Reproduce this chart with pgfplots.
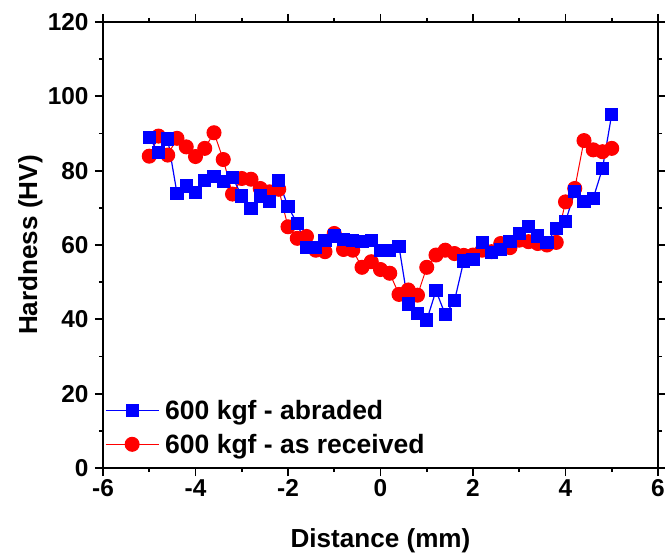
\documentclass[border=0pt]{standalone}
\usepackage{fontspec}
\setmainfont{Liberation Sans}
\usepackage{pgfplots}
\usepackage{pgfplotstable}
\pgfplotsset{compat=1.18}
\pgfplotstableread{
x ab ar
-5.0 88.9 83.9
-4.8 84.9 89.3
-4.6 88.5 84.2
-4.4 73.9 88.7
-4.2 75.9 86.4
-4.0 74.1 83.8
-3.8 77.3 86.0
-3.6 78.4 90.2
-3.4 77.0 83.0
-3.2 78.2 73.7
-3.0 73.2 77.9
-2.8 69.9 77.7
-2.6 73.2 75.2
-2.4 71.6 74.3
-2.2 77.3 75.0
-2.0 70.3 64.9
-1.8 65.8 61.8
-1.6 59.4 62.3
-1.4 59.4 58.6
-1.2 61.3 58.2
-1.0 62.4 63.1
-0.8 61.5 58.8
-0.6 61.3 58.6
-0.4 60.9 54.0
-0.2 61.3 55.5
0.0 58.5 53.4
0.2 58.5 52.4
0.4 59.6 46.7
0.6 44.1 47.9
0.8 41.6 46.5
1.0 39.8 54.0
1.2 47.7 57.3
1.4 41.3 58.6
1.6 45.0 57.7
1.8 55.7 57.2
2.0 56.1 57.3
2.2 60.6 58.6
2.4 57.9 58.2
2.6 58.8 60.4
2.8 60.9 59.3
3.0 63.1 61.3
3.2 64.9 60.9
3.4 62.4 60.4
3.6 60.6 60.0
3.8 64.5 60.7
4.0 66.3 71.6
4.2 74.3 75.2
4.4 71.6 88.1
4.6 72.6 85.6
4.8 80.6 85.1
5.0 95.2 86.0
}\data
\begin{document}
\begin{tikzpicture}
\begin{axis}[
  scale only axis, width=555bp, height=446bp,
  xmin=-6, xmax=6, ymin=0, ymax=120,
  xtick={-6,-4,...,6}, ytick={0,20,...,120},
  minor x tick num=1, minor y tick num=1,
  tick align=outside, tick pos=both,
  major tick length=8bp, minor tick length=4bp,
  axis line style={line width=2.2bp},
  tick style={line width=1.8bp, black},
  /pgf/number format/assume math mode=true,
  ticklabel style={font=\bfseries\fontsize{24.5}{28}\selectfont},
  yticklabel style={xshift=-3bp},
  label style={font=\bfseries\fontsize{26.2}{30}\selectfont},
  xlabel={Distance (mm)}, ylabel={Hardness (HV)},
  xlabel style={at={(axis description cs:0.5,-0.164)}, anchor=center},
  ylabel style={at={(axis description cs:-0.131,0.5)}, anchor=center},
  legend image code/.code={\draw[mark repeat=2,mark phase=2] plot coordinates {(0bp,0bp) (26.5bp,0bp) (53bp,0bp)};},
  legend style={at={(axis cs:-5.96,3.0)}, anchor=south west, draw=none, fill=none,
    font=\bfseries\fontsize{26.6}{30}\selectfont, inner sep=0bp, row sep=9bp, column sep=4bp,
    cells={anchor=west}},
  reverse legend,
]
\addplot[red, line width=1bp, mark=*, mark size=7bp, mark options={fill=red, draw=red}] table[x=x,y=ar] {\data};
\addlegendentry{600 kgf - as received}
\addplot[blue, line width=1.2bp, mark=square*, mark size=6bp, mark options={fill=blue, draw=blue}] table[x=x,y=ab] {\data};
\addlegendentry{600 kgf - abraded}
\end{axis}
\pgfresetboundingbox
\path ([xshift=-103bp,yshift=-86bp]current axis.south west) rectangle ([xshift=7bp,yshift=22bp]current axis.north east);
\end{tikzpicture}
\end{document}
